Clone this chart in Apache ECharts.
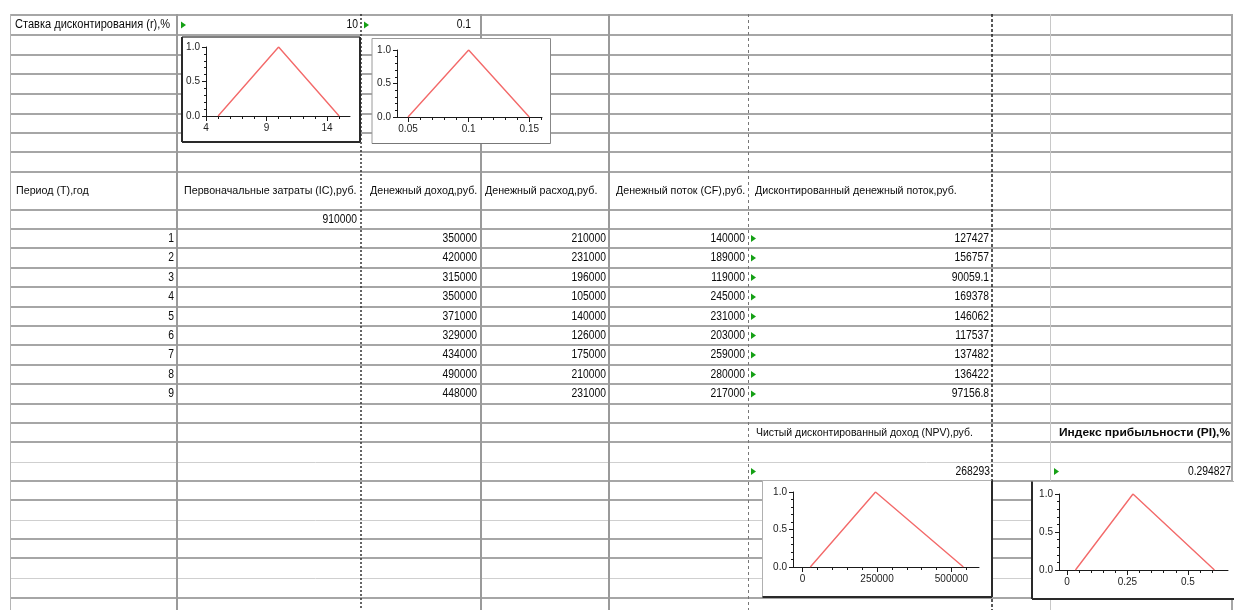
<!DOCTYPE html>
<html><head><meta charset="utf-8">
<script src="https://cdn.jsdelivr.net/npm/echarts@6/dist/echarts.min.js"></script>
<style>html,body{margin:0;padding:0;background:#fff}#main{width:1234px;height:610px}</style>
</head><body><div id="main"></div>
<script>
// ---------- data ----------
const headers = ["Период (T),год", "Первоначальные затраты (IC),руб.", "Денежный доход,руб.", "Денежный расход,руб.", "Денежный поток (CF),руб.", "Дисконтированный денежный поток,руб."];
const rateLabel = "Ставка дисконтирования (r),%";
const ratePercent = 10;
const rateFraction = 0.1;
const initialCost = 910000;
const periods = [1, 2, 3, 4, 5, 6, 7, 8, 9];
const income = [350000, 420000, 315000, 350000, 371000, 329000, 434000, 490000, 448000];
const expense = [210000, 231000, 196000, 105000, 140000, 126000, 175000, 210000, 231000];
const cashFlow = [140000, 189000, 119000, 245000, 231000, 203000, 259000, 280000, 217000];
const discountedCF = [127427, 156757, 90059.1, 169378, 146062, 117537, 137482, 136422, 97156.8];
const npvLabel = "Чистый дисконтированный доход (NPV),руб.";
const piLabel = "Индекс прибыльности (PI),%";
const npvValue = 268293;
const piValue = 0.294827;

// triangular membership functions (x points, membership levels)
const membership = [0, 1, 0];
const rateTri = [5, 10, 15];
const rateFracTri = [0.05, 0.1, 0.15];
const npvTri = [26000, 245000, 540000];
const piTri = [0.035, 0.273, 0.61];

// tick labels
const yTicks = [0, 0.5, 1];
const rateTicks = [4, 9, 14];
const rateMinor = [5, 6, 7, 8, 10, 11, 12, 13, 15];
const rateFracTicks = [0.05, 0.1, 0.15];
const rateFracMinor = [0.06, 0.07, 0.08, 0.09, 0.11, 0.12, 0.13, 0.14, 0.16];
const npvTicks = [0, 250000, 500000];
const npvMinor = [50000, 100000, 150000, 200000, 300000, 350000, 400000, 450000, 550000];
const piTicks = [0, 0.25, 0.5];
const piMinor = [0.05, 0.1, 0.15, 0.2, 0.3, 0.35, 0.4, 0.45, 0.55, 0.6];

// ---------- layout ----------
const FONT = '"Liberation Sans", Arial, sans-serif';
const hLines = [15, 35, 55, 74, 94, 114, 133, 152, 172, 210, 229, 248, 268, 287, 307, 326, 345, 365, 384, 404, 423, 442, 462, 481, 500, 520, 539, 558, 578, 598];
const lightH = [462, 520, 578];
const els = [];
hLines.forEach(y => {
  const light = lightH.includes(y);
  els.push({type: 'line', z: -10, shape: {x1: 10, y1: light ? y + 0.5 : y, x2: 1232, y2: light ? y + 0.5 : y},
    style: {stroke: light ? '#cfcfcf' : '#a6a6a6', lineWidth: light ? 1 : 2}});
});
const vLines = [
  {x: 10.5, c: '#b5b5b5', w: 1},
  {x: 177, c: '#9a9a9a', w: 2},
  {x: 361, c: '#333', w: 1.5, d: [2, 2]},
  {x: 481, c: '#9a9a9a', w: 2},
  {x: 609, c: '#9a9a9a', w: 2},
  {x: 748.5, c: '#777', w: 1, d: [3, 3]},
  {x: 992, c: '#222', w: 1.5, d: [3, 2]},
  {x: 1050.5, c: '#c8c8c8', w: 1},
  {x: 1232, c: '#a6a6a6', w: 2}
];
vLines.forEach(v => {
  els.push({type: 'line', z: -9, shape: {x1: v.x, y1: 14, x2: v.x, y2: 610},
    style: {stroke: v.c, lineWidth: v.w, lineDash: v.d || null}});
});

// chart frames
function frame(x1, y1, x2, y2, top, left, right, bottom) {
  els.push({type: 'rect', z: -5, shape: {x: x1, y: y1, width: x2 - x1, height: y2 - y1}, style: {fill: '#fff'}});
  const side = (a, b, c, d, s) => els.push({type: 'line', z: -4, shape: {x1: a, y1: b, x2: c, y2: d}, style: {stroke: s[0], lineWidth: s[1]}});
  side(x1, y1, x2, y1, top);
  side(x1, y1, x1, y2, left);
  side(x2, y1, x2, y2, right);
  side(x1, y2, x2, y2, bottom);
}
const dark = ['#2a2a2a', 2], grey = ['#9a9a9a', 1], lightg = ['#b0b0b0', 1];
frame(182, 37, 360, 142, ['#555', 1.5], dark, dark, dark);
frame(372, 38.5, 550.5, 143.5, grey, grey, ['#888', 1], ['#777', 1]);
frame(762.5, 480.5, 992, 597, lightg, lightg, dark, dark);
frame(1032, 481.5, 1240, 599, lightg, dark, dark, dark);

// text helpers
function txt(s, x, y, align, opts) {
  opts = opts || {};
  els.push({type: 'text', z: 5, x: x, y: y, scaleX: opts.sx || 0.86,
    style: {text: s, font: (opts.bold ? 'bold ' : '') + (opts.size || 12) + 'px ' + FONT, fill: '#0a0a0a', align: align, verticalAlign: 'middle'}});
}
function marker(x, y) {
  els.push({type: 'polygon', z: 5, shape: {points: [[x, y - 3.5], [x + 5, y], [x, y + 3.5]]}, style: {fill: '#15a015'}});
}
const center = (i) => (hLines[i] + hLines[i + 1]) / 2;

txt(rateLabel, 15, center(0), 'left', {sx: 0.92, size: 12});
marker(181, center(0)); txt(String(ratePercent), 358, center(0), 'right');
marker(364, center(0)); txt(String(rateFraction), 471, center(0), 'right');

const headX = [16, 184, 370, 485, 616, 755];
headers.forEach((h, i) => txt(h, headX[i], 191, 'left', {sx: 0.93, size: 11.5}));
txt(String(initialCost), 357, center(9), 'right');
periods.forEach((p, i) => {
  const y = center(10 + i);
  txt(String(p), 174, y, 'right');
  txt(String(income[i]), 477, y, 'right');
  txt(String(expense[i]), 606, y, 'right');
  txt(String(cashFlow[i]), 745, y, 'right');
  marker(751, y);
  txt(String(discountedCF[i]), 989, y, 'right');
});
txt(npvLabel, 756, center(20), 'left', {sx: 0.91, size: 11.5});
txt(piLabel, 1059, center(20), 'left', {bold: true, sx: 1.04, size: 11.5});
marker(751, center(22)); txt(String(npvValue), 990, center(22), 'right');
marker(1054, center(22)); txt(String(piValue), 1231, center(22), 'right');

// ---------- charts ----------
const grids = [
  {left: 206, top: 47, width: 144, height: 69, min: 4, max: 15.9, ticks: rateTicks, minor: rateMinor, tri: rateTri},
  {left: 397, top: 50, width: 145, height: 67, min: 0.0409, max: 0.1605, ticks: rateFracTicks, minor: rateFracMinor, tri: rateFracTri},
  {left: 793, top: 492, width: 186, height: 75, min: -32100, max: 592400, ticks: npvTicks, minor: npvMinor, tri: npvTri},
  {left: 1059, top: 494, width: 169, height: 76, min: -0.033, max: 0.666, ticks: piTicks, minor: piMinor, tri: piTri}
];
const axisCol = '#1a1a1a';
const option = {
  animation: false,
  backgroundColor: '#fff',
  graphic: {elements: els},
  grid: grids.map(g => ({left: g.left, top: g.top, width: g.width, height: g.height, containLabel: false})),
  xAxis: grids.flatMap((g, i) => [
    {type: 'value', gridIndex: i, min: g.min, max: g.max, position: 'bottom',
      axisLine: {show: true, onZero: false, lineStyle: {color: axisCol, width: 1}},
      axisTick: {show: true, customValues: g.ticks, length: 5, lineStyle: {color: axisCol}},
      axisLabel: {show: true, customValues: g.ticks, fontSize: 10, fontFamily: FONT, color: '#222', margin: 7, formatter: v => String(v)},
      splitLine: {show: false}},
    {type: 'value', gridIndex: i, min: g.min, max: g.max, position: 'bottom',
      axisLine: {show: false, onZero: false},
      axisTick: {show: true, customValues: g.minor, length: 3, lineStyle: {color: axisCol}},
      axisLabel: {show: false},
      splitLine: {show: false}}
  ]),
  yAxis: grids.map((g, i) => ({
    type: 'value', gridIndex: i, min: 0, max: 1, interval: 0.5,
    axisLine: {show: true, onZero: false, lineStyle: {color: axisCol, width: 1}},
    axisTick: {show: true, length: 4, lineStyle: {color: axisCol}},
    minorTick: {show: true, splitNumber: 5, length: 2, lineStyle: {color: axisCol}},
    axisLabel: {fontSize: 10, fontFamily: FONT, color: '#222', margin: 6, formatter: v => v.toFixed(1)},
    splitLine: {show: false}, minorSplitLine: {show: false}
  })),
  series: grids.map((g, i) => ({
    type: 'line', xAxisIndex: i * 2, yAxisIndex: i, symbol: 'none', silent: true,
    lineStyle: {color: '#f36a6a', width: 1.4},
    data: g.tri.map((x, k) => [x, membership[k]])
  }))
};
const chart = echarts.init(document.getElementById('main'), null, {renderer: 'canvas'});
chart.setOption(option);
</script>
</body></html>
